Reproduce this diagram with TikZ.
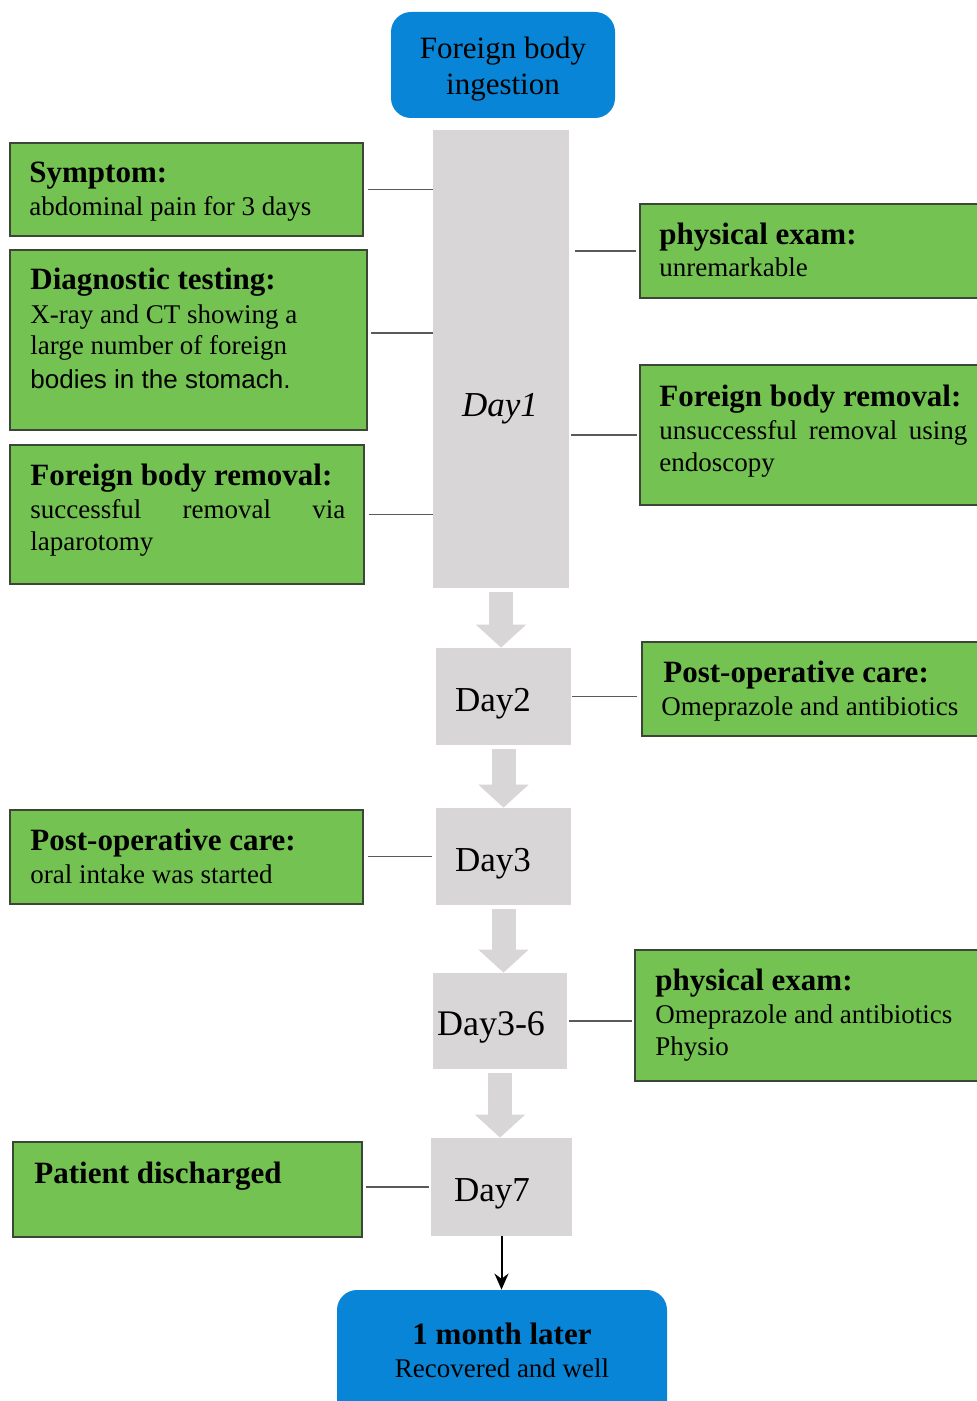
\documentclass[tikz,border=0pt]{standalone}
\usepackage{fontspec}
\setmainfont{Liberation Serif}
\newfontfamily\sansf{Liberation Sans}
\usetikzlibrary{arrows.meta,fit}
\definecolor{grn}{RGB}{116,195,82}
\definecolor{gborder}{RGB}{60,70,55}
\definecolor{dgray}{RGB}{217,214,216}
\definecolor{blu}{RGB}{8,133,214}
\definecolor{connc}{RGB}{90,90,90}
\tikzset{
  gbox/.style={fill=grn, draw=gborder, line width=0.7pt, inner sep=0pt},
  dbox/.style={fill=dgray, draw=none, inner sep=0pt},
  bbox/.style={fill=blu, draw=none, rounded corners=10pt, inner sep=0pt},
  ttl/.style={font=\bfseries\fontsize{15.5}{18}\selectfont, anchor=base west, inner sep=0pt},
  bdy/.style={font=\fontsize{13.5}{16}\selectfont, anchor=base west, inner sep=0pt},
  ctr/.style={anchor=base, inner sep=0pt},
  daytxt/.style={font=\fontsize{17.5}{20}\selectfont, anchor=base, inner sep=0pt},
  conn/.style={draw=connc, line width=0.9pt},
  fat/.style={draw=dgray, line width=12pt, -{Triangle[length=11.5pt,width=24.5pt]}, shorten <=2pt},
}
\begin{document}
\begin{tikzpicture}[x=0.5pt,y=-0.5pt]
\clip (0,0) rectangle (977,1401);
\fill[white] (0,0) rectangle (977,1401);

% top box
\node[bbox, fit={(391,12) (615,118)}] (start) {};
\node[ctr, font=\fontsize{15.5}{18}\selectfont] (startA) at (503,59) {Foreign body};
\node[ctr, font=\fontsize{15.5}{18}\selectfont] (startB) at (503,95) {ingestion};

% day boxes
\node[dbox, fit={(433,130) (569,588)}] (day1) {};
\node[daytxt, font=\itshape\fontsize{17.5}{20}\selectfont] (day1t) at (500,416) {Day1};
\node[dbox, fit={(436,648) (571,745)}] (day2) {};
\node[daytxt] (day2t) at (493,711) {Day2};
\node[dbox, fit={(436,808) (571,905)}] (day3) {};
\node[daytxt] (day3t) at (493,871) {Day3};
\node[dbox, fit={(433,973) (567,1069)}] (day36) {};
\node[daytxt, font=\fontsize{18}{20}\selectfont] (day36t) at (491,1035) {Day3-6};
\node[dbox, fit={(431,1138) (572,1236)}] (day7) {};
\node[daytxt] (day7t) at (492,1201) {Day7};

% bottom box
\node[bbox, fit={(337,1290) (667,1430)}] (final) {};
\node[ctr, font=\bfseries\fontsize{15.5}{18}\selectfont] (finalA) at (502,1344) {1 month later};
\node[ctr, font=\fontsize{13.5}{16}\selectfont] (finalB) at (502,1377) {Recovered and well};

% fat arrows
\draw[fat] (day1.south) -- (day1.south |- day2.north);
\draw[fat] (day2.south) -- (day2.south |- day3.north);
\draw[fat] (day3.south) -- (day3.south |- day36.north);
\draw[fat] (day36.south) -- (day36.south |- day7.north);
\draw[black, line width=1pt, -{Stealth[length=8pt,width=7pt]}] (day7.south) -- (day7.south |- final.north);

% left boxes
\node[gbox, fit={(10,143) (363,236)}] (sym) {};
\node[ttl] (symT) at (29,183) {Symptom:};
\node[bdy] (symB) at (29,216) {abdominal pain for 3 days};

\node[gbox, fit={(10,250) (367,430)}] (diag) {};
\node[ttl] (diagT) at (30,290) {Diagnostic testing:};
\node[bdy] (diagB1) at (30,323) {X-ray and CT showing a};
\node[bdy] (diagB2) at (30,355) {large number of foreign};
\node[bdy, font=\sansf\fontsize{13}{16}\selectfont] (diagB3) at (30,388) {bodies in the stomach.};

\node[gbox, fit={(10,445) (364,584)}] (fbl) {};
\node[ttl] (fblT) at (30,485) {Foreign body removal:};
\node[bdy] (fblB1) at (30,518) {\hbox to 157.5pt{successful\hfill removal\hfill via}};
\node[bdy] (fblB2) at (30,550) {laparotomy};

\node[gbox, fit={(10,810) (363,904)}] (pol) {};
\node[ttl] (polT) at (30,850) {Post-operative care:};
\node[bdy] (polB) at (30,883) {oral intake was started};

\node[gbox, fit={(13,1142) (362,1237)}] (dis) {};
\node[ttl] (disT) at (34,1183) {Patient discharged};

% right boxes
\node[gbox, fit={(640,204) (990,298)}] (phy) {};
\node[ttl] (phyT) at (659,245) {physical exam:};
\node[bdy] (phyB) at (659,277) {unremarkable};

\node[gbox, fit={(640,365) (990,505)}] (fbr) {};
\node[ttl] (fbrT) at (659,406) {Foreign body removal:};
\node[bdy] (fbrB1) at (659,439) {\hbox to 154pt{unsuccessful\hfill removal\hfill using}};
\node[bdy] (fbrB2) at (659,471) {endoscopy};

\node[gbox, fit={(642,642) (990,736)}] (por) {};
\node[ttl] (porT) at (663,682) {Post-operative care:};
\node[bdy] (porB) at (661,715) {Omeprazole and antibiotics};

\node[gbox, fit={(635,950) (990,1081)}] (phy2) {};
\node[ttl] (phy2T) at (655,990) {physical exam:};
\node[bdy] (phy2B1) at (655,1023) {Omeprazole and antibiotics};
\node[bdy] (phy2B2) at (655,1055) {Physio};

% connectors
\draw[conn] ([xshift=2pt]sym.east) -- (sym.east -| day1.west);
\draw[conn] ([xshift=1.5pt]diag.east |- 0,333) -- (day1.west |- 0,333);
\draw[conn] ([xshift=2pt]fbl.east) -- (fbl.east -| day1.west);
\draw[conn] ([xshift=-1.5pt]phy.west) -- ([xshift=3pt]phy.west -| day1.east);
\draw[conn] ([xshift=-1pt]fbr.west) -- ([xshift=1pt]fbr.west -| day1.east);
\draw[conn] ([xshift=-2pt]por.west |- day2.east) -- ([xshift=0.5pt]day2.east);
\draw[conn] ([xshift=2pt]pol.east |- day3.west) -- ([xshift=-2pt]day3.west);
\draw[conn] ([xshift=-1pt]phy2.west |- day36.east) -- ([xshift=1pt]day36.east);
\draw[conn] ([xshift=1.5pt]dis.east |- day7.west) -- ([xshift=-1pt]day7.west);
\end{tikzpicture}
\end{document}
